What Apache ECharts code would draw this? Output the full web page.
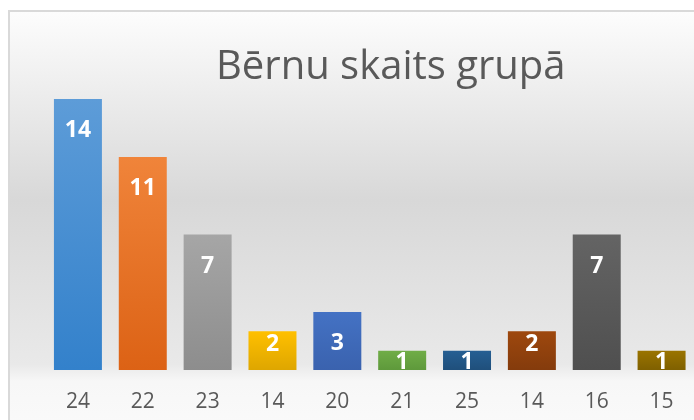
<!DOCTYPE html>
<html>
<head>
<meta charset="utf-8">
<script src="https://cdn.jsdelivr.net/npm/echarts@6/dist/echarts.min.js"></script>
<style>
  html, body { margin: 0; padding: 0; background: #ffffff; }
  #chart { width: 694px; height: 420px; }
</style>
</head>
<body>
<div id="chart"></div>
<script>
// vecums grupā (kategorijas) un bērnu skaits
var groupAges = ['24', '22', '23', '14', '20', '21', '25', '14', '16', '15'];
var childCounts = [14, 11, 7, 2, 3, 1, 1, 2, 7, 1];
var barTopColors = ['#5d9cd8', '#f0843a', '#a6a6a6', '#ffc000', '#4472c4', '#70ad47', '#265f93', '#9e480e', '#646464', '#9a7400'];
var barBottomColors = ['#3381cb', '#dc6215', '#8d8d8d', '#dea600', '#3a62ae', '#5e993b', '#1f4f7b', '#843b0c', '#4f4f4f', '#7f6000'];

var chart = echarts.init(document.getElementById('chart'));

// katram stabiņam savs gradients, uzraksts iekšā pie augšas
var barData = [];
for (var i = 0; i < childCounts.length; i++) {
  barData.push({
    value: childCounts[i],
    itemStyle: {
      color: new echarts.graphic.LinearGradient(0, 0, 0, 1, [
        { offset: 0, color: barTopColors[i] },
        { offset: 1, color: barBottomColors[i] }
      ])
    },
    label: { distance: childCounts[i] >= 3 ? 20 : (childCounts[i] == 2 ? 2 : 0) }
  });
}

var option = {
  animation: false,
  graphic: [{
    type: 'rect',
    z: -10,
    silent: true,
    shape: { x: 9, y: 11, width: 700, height: 420 },
    style: {
      fill: new echarts.graphic.LinearGradient(0, 0, 0, 1, [
        { offset: 0, color: '#fdfdfd' },
        { offset: 0.45, color: '#d8d8d8' },
        { offset: 0.84, color: '#e9e9e9' },
        { offset: 0.88, color: '#f7f7f7' },
        { offset: 1, color: '#fafafa' }
      ]),
      stroke: '#d9d9d9',
      lineWidth: 2
    }
  }],
  title: {
    text: 'Bērnu skaits grupā',
    left: 216,
    top: 48,
    padding: 0,
    textStyle: {
      fontFamily: 'Open Sans',
      fontWeight: 'normal',
      fontSize: 40,
      color: '#595959'
    }
  },
  grid: {
    left: 45.5,
    right: -1.5,
    top: 99,
    bottom: 50,
    containLabel: false
  },
  xAxis: {
    type: 'category',
    data: groupAges,
    axisLine: { show: false },
    axisTick: { show: false },
    axisLabel: {
      margin: 22,
      fontFamily: 'Open Sans',
      fontSize: 21,
      color: '#595959'
    }
  },
  yAxis: {
    type: 'value',
    min: 0,
    max: 14,
    show: false
  },
  series: [{
    type: 'bar',
    data: barData,
    barCategoryGap: '26%',
    label: {
      show: true,
      position: 'insideTop',
      fontFamily: 'Open Sans',
      fontWeight: 'bold',
      fontSize: 23,
      color: '#ffffff'
    }
  }]
};

chart.setOption(option);
</script>
</body>
</html>
